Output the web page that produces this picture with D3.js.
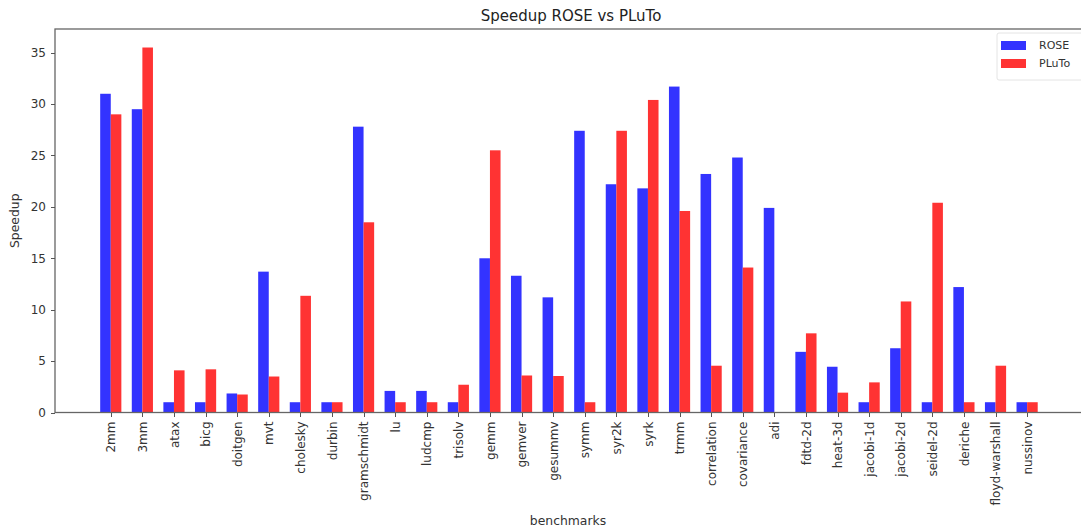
<!DOCTYPE html>
<meta charset="utf-8">
<style>
body { margin: 0; background: #fff; }
svg, .axis { font-family: "DejaVu Sans", sans-serif; }
.axis path, .axis line { fill: none; stroke: #555; shape-rendering: crispEdges; }
.axis text { fill: #333; font-size: 12px; }
.label { fill: #333; font-size: 12.4px; }
</style>
<body>
<script src="https://d3js.org/d3.v7.min.js"></script>
<script>
var benchmarks = ["2mm", "3mm", "atax", "bicg", "doitgen", "mvt", "cholesky", "durbin",
  "gramschmidt", "lu", "ludcmp", "trisolv", "gemm", "gemver", "gesummv", "symm", "syr2k",
  "syrk", "trmm", "correlation", "covariance", "adi", "fdtd-2d", "heat-3d", "jacobi-1d",
  "jacobi-2d", "seidel-2d", "deriche", "floyd-warshall", "nussinov"];
var rose = [31.0, 29.5, 1.0, 1.0, 1.85, 13.7, 1.0, 1.0, 27.8, 2.1, 2.1, 1.0, 15.0, 13.3,
  11.2, 27.4, 22.2, 21.8, 31.7, 23.2, 24.8, 19.9, 5.9, 4.45, 1.0, 6.25, 1.0, 12.2, 1.0, 1.0];
var pluto = [29.0, 35.5, 4.1, 4.2, 1.75, 3.5, 11.35, 1.0, 18.5, 1.0, 1.0, 2.7, 25.5, 3.6,
  3.55, 1.0, 27.4, 30.4, 19.6, 4.55, 14.1, 0, 7.7, 1.93, 2.93, 10.8, 20.4, 1.0, 4.55, 1.0];
var yTicks = [0, 5, 10, 15, 20, 25, 30, 35];
var series = [{name: "ROSE", values: rose, color: "#3333ff"},
              {name: "PLuTo", values: pluto, color: "#ff3333"}];

var W = 1081, H = 531;
// plot area (window.top is reserved, so use other names)
var pLeft = 55, pRight = 1087, pTop = 29, pBottom = 412.5;
var bw = 0.335;

var svg = d3.select("body").append("svg")
    .attr("width", W)
    .attr("height", H);

var x = d3.scaleLinear().domain([-1.43, 31.23]).range([pLeft, pRight]);
var y = d3.scaleLinear().domain([0, 37.3]).range([pBottom, pTop]);

// bars
series.forEach(function(s, k) {
  svg.append("g").selectAll("rect")
      .data(s.values)
    .enter().append("rect")
      .attr("x", function(d, i) { return x(i + k * bw); })
      .attr("width", x(bw) - x(0))
      .attr("y", function(d) { return y(d); })
      .attr("height", function(d) { return y(0) - y(d); })
      .attr("fill", s.color);
});

// frame
svg.append("rect")
    .attr("x", pLeft).attr("y", pTop)
    .attr("width", pRight - pLeft).attr("height", pBottom - pTop)
    .attr("fill", "none").attr("stroke", "#666").attr("stroke-width", 1.3);

var xAxis = d3.axisBottom(x)
    .tickValues(d3.range(benchmarks.length).map(function(i) { return i + bw; }))
    .tickFormat(function(d, i) { return benchmarks[i]; })
    .tickSize(4).tickPadding(4);

var gx = svg.append("g")
    .attr("class", "axis")
    .attr("transform", "translate(0," + pBottom + ")")
    .call(xAxis);
gx.select(".domain").remove();
gx.selectAll("text")
    .attr("transform", "rotate(-90)")
    .attr("x", -9)
    .attr("y", 0)
    .attr("dy", ".35em")
    .style("text-anchor", "end");

var gy = svg.append("g")
    .attr("class", "axis")
    .attr("transform", "translate(" + pLeft + ",0)")
    .call(d3.axisLeft(y).tickValues(yTicks).tickSize(4).tickPadding(5));
gy.select(".domain").remove();

// titles
svg.append("text")
    .attr("x", (pLeft + pRight) / 2).attr("y", 16)
    .attr("dy", ".35em")
    .style("text-anchor", "middle")
    .style("font-size", "15px")
    .attr("fill", "#222")
    .text("Speedup ROSE vs PLuTo");

svg.append("text")
    .attr("class", "label")
    .attr("transform", "translate(15," + (pTop + pBottom) / 2 + ") rotate(-90)")
    .attr("dy", ".35em")
    .style("text-anchor", "middle")
    .text("Speedup");

svg.append("text")
    .attr("class", "label")
    .attr("x", 568).attr("y", 521)
    .attr("dy", ".35em")
    .style("text-anchor", "middle")
    .text("benchmarks");

// legend
var lg = svg.append("g").attr("transform", "translate(997,33)");
lg.append("rect")
    .attr("width", 86).attr("height", 47).attr("rx", 2)
    .attr("fill", "#fff").attr("stroke", "#e4e4e4");
series.forEach(function(s, k) {
  lg.append("rect")
      .attr("x", 4).attr("y", 8 + k * 18)
      .attr("width", 25).attr("height", 9)
      .attr("fill", s.color);
  lg.append("text")
      .attr("x", 42).attr("y", 12.5 + k * 18)
      .attr("dy", ".35em")
      .style("font-size", "11px")
      .attr("fill", "#333")
      .text(s.name);
});
</script>
